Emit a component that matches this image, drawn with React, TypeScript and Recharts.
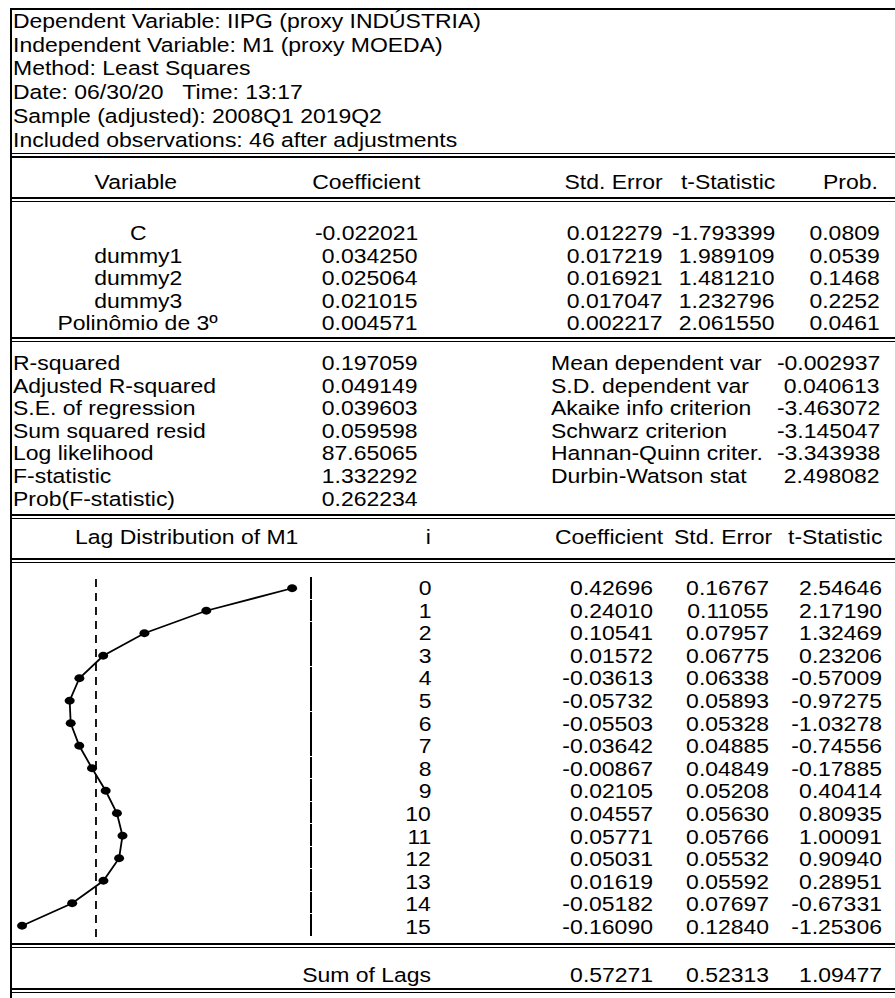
import React from 'react'
import { LineChart, Line, XAxis, YAxis, ReferenceLine } from 'recharts'

// header block
const headerLines = [
  'Dependent Variable: IIPG (proxy INDÚSTRIA)',
  'Independent Variable: M1 (proxy MOEDA)',
  'Method: Least Squares',
  'Date: 06/30/20   Time: 13:17',
  'Sample (adjusted): 2008Q1 2019Q2',
  'Included observations: 46 after adjustments',
]

// coefficient table
const variables = ['C', 'dummy1', 'dummy2', 'dummy3', 'Polinômio de 3º']
const coefs = ['-0.022021', '0.034250', '0.025064', '0.021015', '0.004571']
const stdErrs = ['0.012279', '0.017219', '0.016921', '0.017047', '0.002217']
const tStats = ['-1.793399', '1.989109', '1.481210', '1.232796', '2.061550']
const probs = ['0.0809', '0.0539', '0.1468', '0.2252', '0.0461']

// summary stats
const statLabelsL = ['R-squared', 'Adjusted R-squared', 'S.E. of regression', 'Sum squared resid', 'Log likelihood', 'F-statistic', 'Prob(F-statistic)']
const statValuesL = ['0.197059', '0.049149', '0.039603', '0.059598', '87.65065', '1.332292', '0.262234']
const statLabelsR = ['Mean dependent var', 'S.D. dependent var', 'Akaike info criterion', 'Schwarz criterion', 'Hannan-Quinn criter.', 'Durbin-Watson stat']
const statValuesR = ['-0.002937', '0.040613', '-3.463072', '-3.145047', '-3.343938', '2.498082']

// lag distribution
const lags = [0, 1, 2, 3, 4, 5, 6, 7, 8, 9, 10, 11, 12, 13, 14, 15]
const lagCoefs = [0.42696, 0.2401, 0.10541, 0.01572, -0.03613, -0.05732, -0.05503, -0.03642, -0.00867, 0.02105, 0.04557, 0.05771, 0.05031, 0.01619, -0.05182, -0.1609]
const lagStdErrs = ['0.16767', '0.11055', '0.07957', '0.06775', '0.06338', '0.05893', '0.05328', '0.04885', '0.04849', '0.05208', '0.05630', '0.05766', '0.05532', '0.05592', '0.07697', '0.12840']
const lagTStats = ['2.54646', '2.17190', '1.32469', '0.23206', '-0.57009', '-0.97275', '-1.03278', '-0.74556', '-0.17885', '0.40414', '0.80935', '1.00091', '0.90940', '0.28951', '-0.67331', '-1.25306']
const sumOfLags = ['0.57271', '0.52313', '1.09477']

const lagData = lags.map((lag, i) => ({ lag, coef: lagCoefs[i] }))

const K = 1.12
const ROW = 22.6

function T({ x, y, a = 'l', children }: { x: number; y: number; a?: 'l' | 'c' | 'r'; children: React.ReactNode }) {
  const w = 600
  const left = a === 'l' ? x : a === 'c' ? x - w / 2 : x - w
  const origin = a === 'l' ? 'left center' : a === 'c' ? 'center' : 'right center'
  return (
    <div
      style={{
        position: 'absolute',
        left,
        top: y - 12,
        width: w,
        height: 24,
        lineHeight: '24px',
        textAlign: a === 'l' ? 'left' : a === 'c' ? 'center' : 'right',
        whiteSpace: 'pre',
      }}
    >
      <span style={{ display: 'inline-block', transform: `scaleX(${K})`, transformOrigin: origin }}>{children}</span>
    </div>
  )
}

function DoubleLine({ y }: { y: number }) {
  return (
    <>
      <div style={{ position: 'absolute', left: 10, top: y, width: 885, height: 1.5, background: '#000' }} />
      <div style={{ position: 'absolute', left: 10, top: y + 3.5, width: 885, height: 1.5, background: '#000' }} />
    </>
  )
}

const LagDot = (props: any) => {
  const { cx, cy, index } = props
  if (cx == null || cy == null) return null
  return <ellipse key={index} cx={cx} cy={cy} rx={5} ry={3.9} fill="#000" />
}

export default function App() {
  return (
    <div
      style={{
        position: 'absolute',
        left: 0,
        top: 0,
        width: 895,
        height: 998,
        overflow: 'hidden',
        background: '#fff',
        color: '#000',
        fontFamily: '"Liberation Sans", Arial, sans-serif',
        fontSize: 20.5,
      }}
    >
      {/* frame */}
      <div style={{ position: 'absolute', left: 10, top: 8, width: 885, height: 2, background: '#000' }} />
      <div style={{ position: 'absolute', left: 10, top: 8, width: 2, height: 990, background: '#000' }} />

      {headerLines.map((t, i) => (
        <T key={t} x={13} y={21 + i * 23.7}>{t}</T>
      ))}

      <DoubleLine y={152.5} />
      <T x={136} y={182} a="c">Variable</T>
      <T x={366} y={182} a="c">Coefficient</T>
      <T x={663} y={182} a="r">Std. Error</T>
      <T x={775} y={182} a="r">t-Statistic</T>
      <T x={850} y={182} a="c">Prob.</T>
      <DoubleLine y={197} />

      {variables.map((v, i) => (
        <React.Fragment key={v}>
          <T x={138} y={233 + i * ROW} a="c">{v}</T>
          <T x={418} y={233 + i * ROW} a="r">{coefs[i]}</T>
          <T x={663} y={233 + i * ROW} a="r">{stdErrs[i]}</T>
          <T x={775} y={233 + i * ROW} a="r">{tStats[i]}</T>
          <T x={880} y={233 + i * ROW} a="r">{probs[i]}</T>
        </React.Fragment>
      ))}

      <DoubleLine y={337} />

      {statLabelsL.map((l, i) => (
        <React.Fragment key={l}>
          <T x={13} y={363 + i * ROW}>{l}</T>
          <T x={418} y={363 + i * ROW} a="r">{statValuesL[i]}</T>
        </React.Fragment>
      ))}
      {statLabelsR.map((l, i) => (
        <React.Fragment key={l}>
          <T x={551} y={363 + i * ROW}>{l}</T>
          <T x={880} y={363 + i * ROW} a="r">{statValuesR[i]}</T>
        </React.Fragment>
      ))}

      <DoubleLine y={514} />
      <T x={187} y={537} a="c">Lag Distribution of M1</T>
      <T x={428} y={537} a="c">i</T>
      <T x={555} y={537}>Coefficient</T>
      <T x={674} y={537}>Std. Error</T>
      <T x={788} y={537}>t-Statistic</T>
      <DoubleLine y={558} />

      {lags.map((lag, i) => (
        <React.Fragment key={lag}>
          <T x={431} y={588 + i * ROW} a="r">{String(lag)}</T>
          <T x={653} y={588 + i * ROW} a="r">{lagCoefs[i].toFixed(5)}</T>
          <T x={769} y={588 + i * ROW} a="r">{lagStdErrs[i]}</T>
          <T x={882} y={588 + i * ROW} a="r">{lagTStats[i]}</T>
        </React.Fragment>
      ))}

      {/* lag chart */}
      <div style={{ position: 'absolute', left: 11, top: 577 }}>
        <LineChart layout="vertical" width={300} height={360} data={lagData} margin={{ top: 0, right: 0, bottom: 0, left: 0 }}>
          <XAxis type="number" dataKey="coef" domain={[-0.185, 0.468]} hide />
          <YAxis type="category" dataKey="lag" hide padding={{ top: 11.25, bottom: 11.25 }} />
          <ReferenceLine x={0} stroke="#000" strokeWidth={1.8} strokeDasharray="8 6" />
          <Line
            dataKey="coef"
            stroke="#000"
            strokeWidth={1.8}
            dot={LagDot}
            activeDot={false}
            isAnimationActive={false}
          />
        </LineChart>
      </div>
      <div
        style={{
          position: 'absolute',
          left: 310,
          top: 577,
          width: 2,
          height: 360,
          background: 'repeating-linear-gradient(to bottom, #000 0px, #000 21.5px, #fff 21.5px, #fff 22.5px)',
        }}
      />

      <DoubleLine y={943} />
      <T x={431} y={975} a="r">Sum of Lags</T>
      <T x={653} y={975} a="r">{sumOfLags[0]}</T>
      <T x={769} y={975} a="r">{sumOfLags[1]}</T>
      <T x={882} y={975} a="r">{sumOfLags[2]}</T>
      <DoubleLine y={988} />
    </div>
  )
}
